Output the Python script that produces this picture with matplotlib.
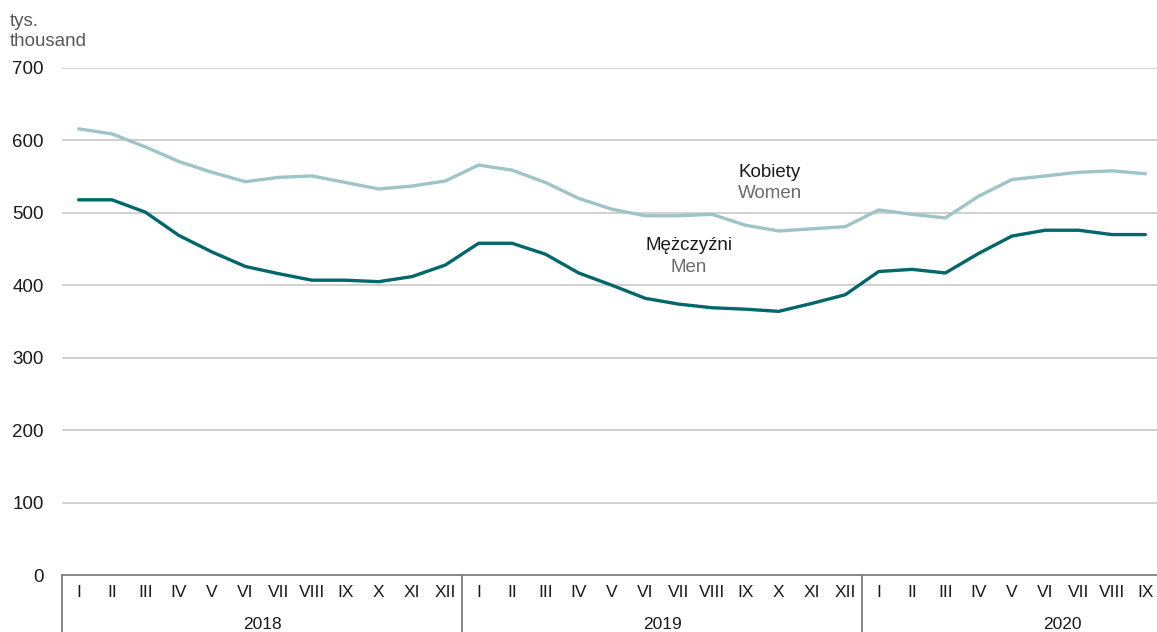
import matplotlib.pyplot as plt
import matplotlib.transforms as mtransforms

plt.rcParams['font.family'] = ['Liberation Sans', 'DejaVu Sans']

# Dane (tys.)
years = ['2018', '2019', '2020']
months = ['I', 'II', 'III', 'IV', 'V', 'VI', 'VII', 'VIII', 'IX', 'X', 'XI', 'XII']
month_labels = months + months + months[:9]

kobiety = [616, 609, 591, 571, 556, 543, 549, 551, 542, 533, 537, 544,
           566, 559, 542, 520, 505, 496, 496, 498, 483, 475, 478, 481,
           504, 498, 493, 523, 546, 551, 556, 558, 554]
mezczyzni = [518, 518, 501, 469, 446, 426, 416, 407, 407, 405, 412, 428,
             458, 458, 443, 417, 400, 382, 374, 369, 367, 364, 375, 387,
             419, 422, 417, 444, 468, 476, 476, 470, 470]

x = list(range(len(month_labels)))

fig = plt.figure(figsize=(11.57, 6.32), dpi=100)
fig.patch.set_facecolor('white')
ax = fig.add_axes([62 / 1157, 57 / 632, 1100 / 1157, 507 / 632])

ax.plot(x, kobiety, color='#9dc4c6', linewidth=2.4, solid_capstyle='round', zorder=3)
ax.plot(x, mezczyzni, color='#00676a', linewidth=2.4, solid_capstyle='round', zorder=3)

ax.set_xlim(-0.5, len(month_labels) - 0.5)
ax.set_ylim(0, 700)
ax.set_yticks(range(0, 701, 100))
ax.tick_params(axis='y', length=0, pad=13, labelsize=13.5, labelcolor='#1a1a1a')
ax.set_xticks([])

for v in range(100, 701, 100):
    ax.axhline(v, color='#c4c4c4', linewidth=1.1, zorder=1)

for s in ['top', 'right', 'left']:
    ax.spines[s].set_visible(False)
ax.spines['bottom'].set_color('#7f7f7f')
ax.spines['bottom'].set_linewidth(1.3)

# Os X: miesiace i lata
trans = mtransforms.blended_transform_factory(ax.transData, ax.transAxes)
for i, m in enumerate(month_labels):
    ax.text(i, -0.034, m, transform=trans, ha='center', va='center',
            fontsize=12.5, color='#1a1a1a')

for k, yr in enumerate(years):
    start = k * 12 - 0.5
    ax.plot([start, start], [0, -0.13], transform=trans, color='#7f7f7f',
            linewidth=1.3, clip_on=False)
    ax.text(start + 6, -0.097, yr, transform=trans, ha='center', va='center',
            fontsize=12.5, color='#1a1a1a')

# Opisy serii
ax.text(20.74, 556, 'Kobiety', ha='center', va='center', fontsize=13.5, color='#1a1a1a')
ax.text(20.74, 527, 'Women', ha='center', va='center', fontsize=13.5, color='#6b6b6b')
ax.text(18.3, 455, 'Mężczyźni', ha='center', va='center', fontsize=13.5, color='#1a1a1a')
ax.text(18.3, 425, 'Men', ha='center', va='center', fontsize=13.5, color='#6b6b6b')

# Jednostka
fig.text(10 / 1157, 1 - 22 / 632, 'tys.', fontsize=13.5, color='#595959', va='center')
fig.text(10 / 1157, 1 - 42 / 632, 'thousand', fontsize=13.5, color='#595959', va='center')

plt.savefig('out.png', dpi=100)
